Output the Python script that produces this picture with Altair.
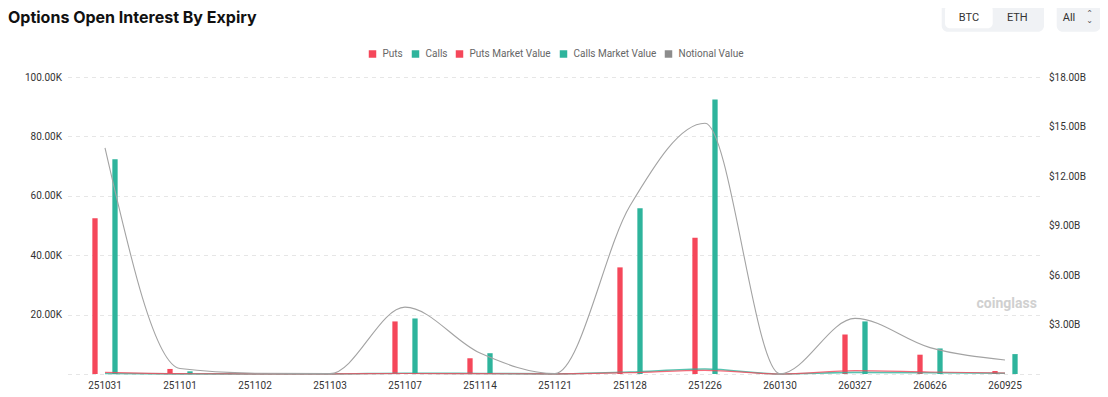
import altair as alt
import pandas as pd

# ---------------- data ----------------
expiries = ["251031", "251101", "251102", "251103", "251107", "251114", "251121",
            "251128", "251226", "260130", "260327", "260626", "260925"]
puts_oi = [52400, 1700, 150, 80, 17700, 5300, 100, 35900, 45900, 60, 13300, 6500, 1000]
calls_oi = [72300, 900, 250, 120, 18700, 7000, 150, 55800, 92400, 80, 17700, 8600, 6700]
puts_mv = [0.10e9, 0.02e9, 0.01e9, 0.005e9, 0.03e9, 0.02e9, 0.01e9, 0.08e9, 0.22e9, 0.0, 0.20e9, 0.12e9, 0.06e9]
calls_mv = [0.03e9, 0.01e9, 0.005e9, 0.002e9, 0.05e9, 0.03e9, 0.005e9, 0.12e9, 0.30e9, 0.0, 0.10e9, 0.08e9, 0.05e9]
notional = [13.7e9, 0.33e9, 0.05e9, 0.02e9, 4.05e9, 1.27e9, 0.03e9, 10.2e9, 15.2e9, 0.01e9, 3.37e9, 1.6e9, 0.85e9]

series_names = ["Puts", "Calls", "Puts Market Value", "Calls Market Value", "Notional Value"]
series_colors = ["#F5475A", "#2EB49C", "#F5475A", "#2EB49C", "#8C8C8C"]
left_ticks = [0, 20000, 40000, 60000, 80000, 100000]
right_ticks = [0, 3e9, 6e9, 9e9, 12e9, 15e9, 18e9]
title_text = "Options Open Interest By Expiry"
watermark_text = "coinglass"

FONT = "Roboto"

bars_df = pd.DataFrame({
    "expiry": expiries * 2,
    "series": ["Puts"] * len(expiries) + ["Calls"] * len(expiries),
    "value": puts_oi + calls_oi,
})
lines_df = pd.DataFrame({
    "expiry": expiries * 3,
    "series": (["Puts Market Value"] * len(expiries) + ["Calls Market Value"] * len(expiries)
               + ["Notional Value"] * len(expiries)),
    "value": puts_mv + calls_mv + notional,
})

x_enc = alt.X(
    "expiry:N", sort=expiries, title=None,
    scale=alt.Scale(paddingInner=0.4667, paddingOuter=0.2333),
    axis=alt.Axis(labelAngle=0, ticks=False, domain=False, grid=False, labelPadding=6,
                  labelFontSize=10, labelColor="#333333", labelFont=FONT),
)

bars = alt.Chart(bars_df).mark_bar().encode(
    x=x_enc,
    xOffset=alt.XOffset("series:N", sort=["Puts", "Calls"],
                        scale=alt.Scale(domain=["Puts", "Calls"], paddingInner=0.735, paddingOuter=0.3675)),
    y=alt.Y("value:Q", title=None,
            scale=alt.Scale(domain=[0, 100000], nice=False),
            axis=alt.Axis(orient="left", values=left_ticks, grid=True, gridDash=[4, 4],
                          gridColor="#E6E6E6", domain=False, ticks=False, labelPadding=6,
                          labelFontSize=10, labelColor="#333333", labelFont=FONT,
                          labelExpr="datum.value == 0 ? '' : format(datum.value / 1000, '.2f') + 'K'")),
    color=alt.Color("series:N",
                    scale=alt.Scale(domain=series_names, range=series_colors),
                    legend=alt.Legend(orient="none", legendX=300, legendY=-28, direction="horizontal",
                                      columns=5, title=None, symbolType="square", symbolSize=56,
                                      symbolStrokeWidth=0, labelFontSize=10, labelColor="#666666",
                                      labelFont=FONT, columnPadding=7, labelOffset=5)),
)

def line_layer(name, color, width, opacity=1.0):
    return alt.Chart(lines_df).transform_filter(alt.datum.series == name).mark_line(
        interpolate="monotone", strokeWidth=width, opacity=opacity, color=color
    ).encode(
        x=x_enc,
        y=alt.Y("value:Q", title=None,
                scale=alt.Scale(domain=[0, 18e9], nice=False),
                axis=alt.Axis(orient="right", values=right_ticks, grid=False, domain=False, ticks=False,
                              labelPadding=6, labelFontSize=10, labelColor="#333333", labelFont=FONT,
                              labelExpr="datum.value == 0 ? '' : '$' + format(datum.value / 1e9, '.2f') + 'B'")),
    )

lines = alt.layer(
    line_layer("Calls Market Value", "#2EB49C", 1.6, 0.8),
    line_layer("Puts Market Value", "#F5475A", 1.2, 0.8),
    line_layer("Notional Value", "#A3A3A3", 1.1),
)

def text_layer(txt, x, y, size, color, weight="normal", align="center", baseline="middle", font=FONT):
    return alt.Chart(pd.DataFrame({"t": [txt]})).mark_text(
        fontSize=size, color=color, fontWeight=weight, align=align, baseline=baseline, font=font
    ).encode(text="t:N", x=alt.value(x), y=alt.value(y))

def rect_layer(x, x2, y, y2, fill, radius):
    return alt.Chart(pd.DataFrame({"t": [0]})).mark_rect(fill=fill, cornerRadius=radius).encode(
        x=alt.value(x), x2=alt.value(x2), y=alt.value(y), y2=alt.value(y2))

deco = alt.layer(
    text_layer(title_text, -59.5, -54.5, 16, "#111111", weight="bold", align="left",
               baseline="alphabetic", font="Inter"),
    rect_layer(874.2, 976.5, -75, -45.3, "#F0F2F5", 6),
    rect_layer(877.5, 925.2, -72, -48.7, "#FFFFFF", 5),
    text_layer("BTC", 901.5, -59.5, 11, "#333333"),
    text_layer("ETH", 949.8, -59.5, 11, "#333333"),
    rect_layer(989.2, 1033.2, -75, -45.3, "#F0F2F5", 6),
    text_layer("All", 1001.5, -59.5, 11, "#333333"),
    text_layer("⌃", 1022, -63, 8, "#555555", font="DejaVu Sans"),
    text_layer("⌄", 1022, -56, 8, "#555555", font="DejaVu Sans"),
    text_layer(watermark_text, 909, 227, 14, "#D0D0D0", weight="bold", align="left"),
)

chart = alt.layer(bars, lines, deco).resolve_scale(
    y="independent"
).properties(
    width=975, height=297,
    padding={"left": 59.5, "top": 69, "right": 57.5, "bottom": 23},
    autosize=alt.AutoSizeParams(type="none"),
).configure_view(strokeWidth=0)

chart.save("out.html", embed_options={"renderer": "svg", "actions": False})
